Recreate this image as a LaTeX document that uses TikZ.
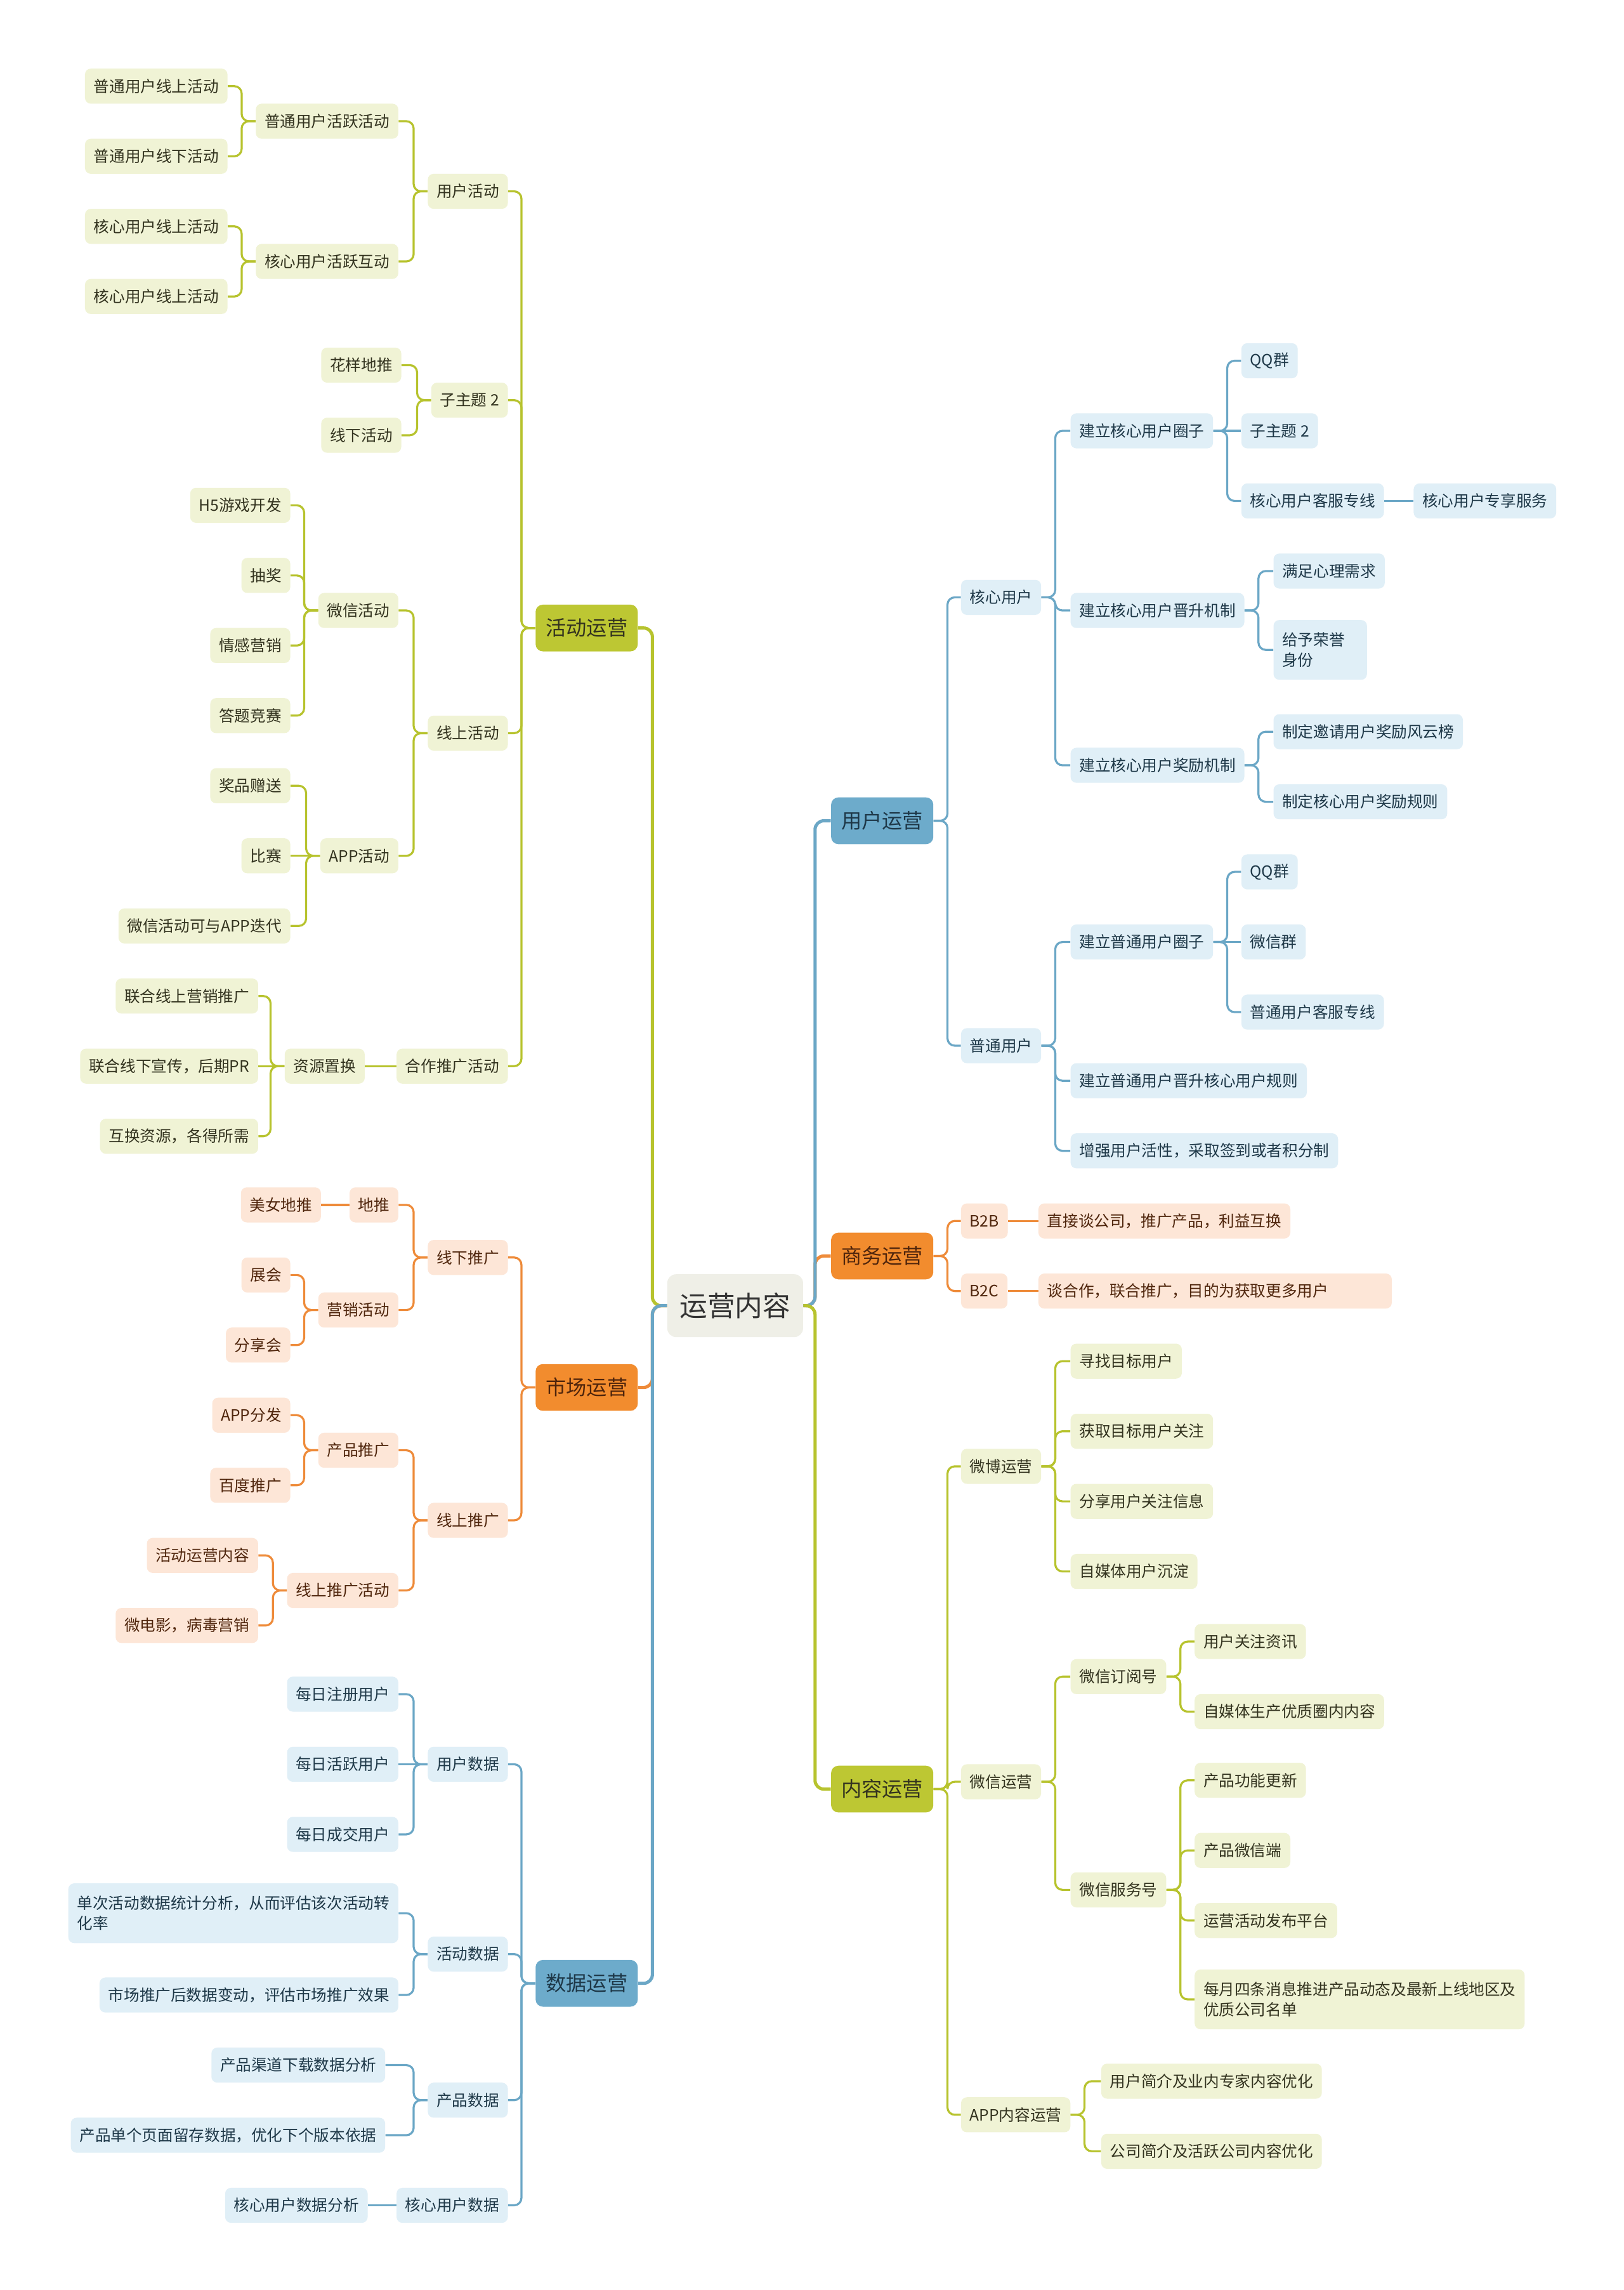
\documentclass[tikz,border=0pt]{standalone}
\usepackage{fontspec}
\setmainfont{Noto Sans CJK SC}
\definecolor{gline}{HTML}{B7C32E}
\definecolor{gmain}{HTML}{BDC733}
\definecolor{glight}{HTML}{F0F3D5}
\definecolor{gtext}{HTML}{33331F}
\definecolor{oline}{HTML}{EE8B3A}
\definecolor{omain}{HTML}{F28C2E}
\definecolor{olight}{HTML}{FDE6D7}
\definecolor{otext}{HTML}{4F250C}
\definecolor{bline}{HTML}{6BA7C6}
\definecolor{bmain}{HTML}{6DABCB}
\definecolor{blight}{HTML}{E0EFF7}
\definecolor{btext}{HTML}{1E3848}
\definecolor{rootfill}{HTML}{EFEFE7}
\newcommand\lconn[3]{\draw[#1] (#2.west) -- ++(-9.5,0) |- (#3.east);}
\newcommand\rconn[3]{\draw[#1] (#2.east) -- ++(9.5,0) |- (#3.west);}
\begin{document}
\begin{tikzpicture}[x=1pt,y=-1pt,
  base/.style={rounded corners=4pt, inner xsep=6pt, inner ysep=0pt, minimum height=24pt, font=\fontsize{10.7pt}{14pt}\selectfont},
  gN/.style={base, fill=glight, text=gtext},
  oN/.style={base, fill=olight, text=otext},
  bN/.style={base, fill=blight, text=btext},
  gL/.style={gN, anchor=east}, gR/.style={gN, anchor=west},
  oL/.style={oN, anchor=east}, oR/.style={oN, anchor=west},
  bL/.style={bN, anchor=east}, bR/.style={bN, anchor=west},
  two/.style={inner ysep=8.5pt, align=left},
  mainN/.style={rounded corners=5pt, inner xsep=7pt, inner ysep=0pt, minimum height=32pt, font=\fontsize{14pt}{17pt}\selectfont},
  gM/.style={mainN, fill=gmain, text=gtext},
  oM/.style={mainN, fill=omain, text=otext},
  bM/.style={mainN, fill=bmain, text=btext},
  lineBase/.style={line width=1.4pt, rounded corners=5pt},
  gLine/.style={lineBase, draw=gline},
  oLine/.style={lineBase, draw=oline},
  bLine/.style={lineBase, draw=bline},
  rootBase/.style={line width=2.2pt, rounded corners=6pt},
  gRoot/.style={rootBase, draw=gline},
  oRoot/.style={rootBase, draw=oline},
  bRoot/.style={rootBase, draw=bline},
]
\useasboundingbox[fill=white] (0,0) rectangle (1112,1568);

% root
\node[rounded corners=6pt, fill=rootfill, text=black!80, inner xsep=8.5pt, inner ysep=0pt, minimum height=43pt, font=\fontsize{19pt}{22pt}\selectfont] (R) at (503.5,894) {运营内容};

% ===== 活动运营 =====
\node[gM, anchor=east] (A) at (437,430) {活动运营};
\node[gL] (A1) at (348,131) {用户活动};
\node[gL] (A11) at (273,83) {普通用户活跃活动};
\node[gL] (A111) at (156,59) {普通用户线上活动};
\node[gL] (A112) at (156,107) {普通用户线下活动};
\node[gL] (A12) at (273,179) {核心用户活跃互动};
\node[gL] (A121) at (156,155) {核心用户线上活动};
\node[gL] (A122) at (156,203) {核心用户线上活动};
\node[gL] (A2) at (348,274) {子主题 2};
\node[gL] (A21) at (275,250) {花样地推};
\node[gL] (A22) at (275,298) {线下活动};
\node[gL] (A3) at (348,502) {线上活动};
\node[gL] (A31) at (273,418) {微信活动};
\node[gL] (A311) at (199,346) {H5游戏开发};
\node[gL] (A312) at (199,394) {抽奖};
\node[gL] (A313) at (199,442) {情感营销};
\node[gL] (A314) at (199,490) {答题竞赛};
\node[gL] (A32) at (273,586) {APP活动};
\node[gL] (A321) at (199,538) {奖品赠送};
\node[gL] (A322) at (199,586) {比赛};
\node[gL] (A323) at (199,634) {微信活动可与APP迭代};
\node[gL] (A4) at (348,730) {合作推广活动};
\node[gL] (A41) at (250,730) {资源置换};
\node[gL] (A411) at (177,682) {联合线上营销推广};
\node[gL] (A412) at (177,730) {联合线下宣传，后期PR};
\node[gL] (A413) at (177,778) {互换资源，各得所需};

% ===== 市场运营 =====
\node[oM, anchor=east] (M) at (437,950) {市场运营};
\node[oL] (M1) at (348,861) {线下推广};
\node[oL] (M11) at (273,825) {地推};
\node[oL] (M111) at (220,825) {美女地推};
\node[oL] (M12) at (273,897) {营销活动};
\node[oL] (M121) at (199,873) {展会};
\node[oL] (M122) at (199,921) {分享会};
\node[oL] (M2) at (348,1041) {线上推广};
\node[oL] (M21) at (273,993) {产品推广};
\node[oL] (M211) at (199,969) {APP分发};
\node[oL] (M212) at (199,1017) {百度推广};
\node[oL] (M22) at (273,1089) {线上推广活动};
\node[oL] (M221) at (177,1065) {活动运营内容};
\node[oL] (M222) at (177,1113) {微电影，病毒营销};

% ===== 数据运营 =====
\node[bM, anchor=east] (D) at (437,1358) {数据运营};
\node[bL] (D1) at (348,1208) {用户数据};
\node[bL] (D11) at (273,1160) {每日注册用户};
\node[bL] (D12) at (273,1208) {每日活跃用户};
\node[bL] (D13) at (273,1256) {每日成交用户};
\node[bL] (D2) at (348,1338) {活动数据};
\node[bL, two] (D21) at (273,1310) {单次活动数据统计分析，从而评估该次活动转\\化率};
\node[bL] (D22) at (273,1366) {市场推广后数据变动，评估市场推广效果};
\node[bL] (D3) at (348,1438) {产品数据};
\node[bL] (D31) at (264,1414) {产品渠道下载数据分析};
\node[bL] (D32) at (264,1462) {产品单个页面留存数据，优化下个版本依据};
\node[bL] (D4) at (348,1510) {核心用户数据};
\node[bL] (D41) at (252,1510) {核心用户数据分析};

% ===== 用户运营 =====
\node[bM, anchor=west] (U) at (569,562) {用户运营};
\node[bR] (U1) at (658,409) {核心用户};
\node[bR] (U11) at (733,295) {建立核心用户圈子};
\node[bR] (U111) at (850,247) {QQ群};
\node[bR] (U112) at (850,295) {子主题 2};
\node[bR] (U113) at (850,343) {核心用户客服专线};
\node[bR] (U1131) at (968,343) {核心用户专享服务};
\node[bR] (U12) at (733,418) {建立核心用户晋升机制};
\node[bR] (U121) at (872,391) {满足心理需求};
\node[bR, two, text width=52pt] (U122) at (872,445) {给予荣誉\\身份};
\node[bR] (U13) at (733,524) {建立核心用户奖励机制};
\node[bR] (U131) at (872,501) {制定邀请用户奖励风云榜};
\node[bR] (U132) at (872,549) {制定核心用户奖励规则};
\node[bR] (U2) at (658,716) {普通用户};
\node[bR] (U21) at (733,645) {建立普通用户圈子};
\node[bR] (U211) at (850,597) {QQ群};
\node[bR] (U212) at (850,645) {微信群};
\node[bR] (U213) at (850,693) {普通用户客服专线};
\node[bR] (U22) at (733,740) {建立普通用户晋升核心用户规则};
\node[bR] (U23) at (733,788) {增强用户活性，采取签到或者积分制};

% ===== 商务运营 =====
\node[oM, anchor=west] (B) at (569,860) {商务运营};
\node[oR] (B1) at (658,836) {B2B};
\node[oR] (B11) at (711,836) {直接谈公司，推广产品，利益互换};
\node[oR] (B2) at (658,884) {B2C};
\node[oR, align=left, text width=230pt] (B21) at (711,884) {谈合作，联合推广，目的为获取更多用户};

% ===== 内容运营 =====
\node[gM, anchor=west] (C) at (569,1225) {内容运营};
\node[gR] (C1) at (658,1004) {微博运营};
\node[gR] (C11) at (733,932) {寻找目标用户};
\node[gR] (C12) at (733,980) {获取目标用户关注};
\node[gR] (C13) at (733,1028) {分享用户关注信息};
\node[gR] (C14) at (733,1076) {自媒体用户沉淀};
\node[gR] (C2) at (658,1220) {微信运营};
\node[gR] (C21) at (733,1148) {微信订阅号};
\node[gR] (C211) at (818,1124) {用户关注资讯};
\node[gR] (C212) at (818,1172) {自媒体生产优质圈内内容};
\node[gR] (C22) at (733,1294) {微信服务号};
\node[gR] (C221) at (818,1219) {产品功能更新};
\node[gR] (C222) at (818,1267) {产品微信端};
\node[gR] (C223) at (818,1315) {运营活动发布平台};
\node[gR, two] (C224) at (818,1369) {每月四条消息推进产品动态及最新上线地区及\\优质公司名单};
\node[gR] (C3) at (658,1448) {APP内容运营};
\node[gR] (C31) at (754,1425) {用户简介及业内专家内容优化};
\node[gR] (C32) at (754,1473) {公司简介及活跃公司内容优化};

% ===== root connectors =====
\draw[gRoot] (R.west) -- ++(-10,0) |- (A.east);
\draw[oRoot] (R.west) -- ++(-10,0) |- (M.east);
\draw[bRoot] (R.west) -- ++(-10,0) |- (D.east);
\draw[oRoot] (R.east) -- ++(8,0) |- (B.west);
\draw[bRoot] (R.east) -- ++(8,0) |- (U.west);
\draw[gRoot] (R.east) -- ++(8,0) |- (C.west);

% ===== left connectors =====
\lconn{gLine}{A}{A1} \lconn{gLine}{A}{A2} \lconn{gLine}{A}{A3} \lconn{gLine}{A}{A4}
\lconn{gLine}{A1}{A11} \lconn{gLine}{A1}{A12}
\lconn{gLine}{A11}{A111} \lconn{gLine}{A11}{A112}
\lconn{gLine}{A12}{A121} \lconn{gLine}{A12}{A122}
\lconn{gLine}{A2}{A21} \lconn{gLine}{A2}{A22}
\lconn{gLine}{A3}{A31} \lconn{gLine}{A3}{A32}
\lconn{gLine}{A31}{A311} \lconn{gLine}{A31}{A312} \lconn{gLine}{A31}{A313} \lconn{gLine}{A31}{A314}
\lconn{gLine}{A32}{A321} \lconn{gLine}{A32}{A323}
\draw[gLine] (A32.west) -- (A322.east);
\draw[gLine] (A4.west) -- (A41.east);
\lconn{gLine}{A41}{A411} \lconn{gLine}{A41}{A413}
\draw[gLine] (A41.west) -- (A412.east);

\lconn{oLine}{M}{M1} \lconn{oLine}{M}{M2}
\lconn{oLine}{M1}{M11} \lconn{oLine}{M1}{M12}
\draw[oLine] (M11.west) -- (M111.east);
\lconn{oLine}{M12}{M121} \lconn{oLine}{M12}{M122}
\lconn{oLine}{M2}{M21} \lconn{oLine}{M2}{M22}
\lconn{oLine}{M21}{M211} \lconn{oLine}{M21}{M212}
\lconn{oLine}{M22}{M221} \lconn{oLine}{M22}{M222}

\lconn{bLine}{D}{D1} \lconn{bLine}{D}{D2} \lconn{bLine}{D}{D3} \lconn{bLine}{D}{D4}
\lconn{bLine}{D1}{D11} \lconn{bLine}{D1}{D13}
\draw[bLine] (D1.west) -- (D12.east);
\lconn{bLine}{D2}{D21} \lconn{bLine}{D2}{D22}
\lconn{bLine}{D3}{D31} \lconn{bLine}{D3}{D32}
\draw[bLine] (D4.west) -- (D41.east);

% ===== right connectors =====
\rconn{bLine}{U}{U1} \rconn{bLine}{U}{U2}
\rconn{bLine}{U1}{U11} \rconn{bLine}{U1}{U12} \rconn{bLine}{U1}{U13}
\rconn{bLine}{U11}{U111} \rconn{bLine}{U11}{U113}
\draw[bLine] (U11.east) -- (U112.west);
\draw[bLine] (U113.east) -- (U1131.west);
\rconn{bLine}{U12}{U121} \rconn{bLine}{U12}{U122}
\rconn{bLine}{U13}{U131} \rconn{bLine}{U13}{U132}
\rconn{bLine}{U2}{U21} \rconn{bLine}{U2}{U22} \rconn{bLine}{U2}{U23}
\rconn{bLine}{U21}{U211} \rconn{bLine}{U21}{U213}
\draw[bLine] (U21.east) -- (U212.west);

\rconn{oLine}{B}{B1} \rconn{oLine}{B}{B2}
\draw[oLine] (B1.east) -- (B11.west);
\draw[oLine] (B2.east) -- (B21.west);

\rconn{gLine}{C}{C1} \rconn{gLine}{C}{C2} \rconn{gLine}{C}{C3}
\rconn{gLine}{C1}{C11} \rconn{gLine}{C1}{C12} \rconn{gLine}{C1}{C13} \rconn{gLine}{C1}{C14}
\rconn{gLine}{C2}{C21} \rconn{gLine}{C2}{C22}
\rconn{gLine}{C21}{C211} \rconn{gLine}{C21}{C212}
\rconn{gLine}{C22}{C221} \rconn{gLine}{C22}{C222} \rconn{gLine}{C22}{C223} \rconn{gLine}{C22}{C224}
\rconn{gLine}{C3}{C31} \rconn{gLine}{C3}{C32}
\end{tikzpicture}
\end{document}
